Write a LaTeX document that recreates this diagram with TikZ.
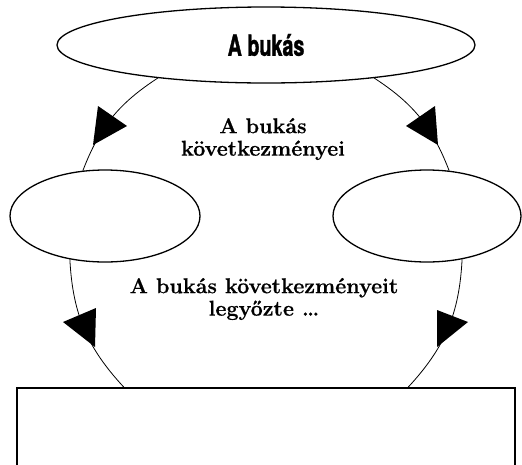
\documentclass[tikz,border=0pt]{standalone}
\usepackage{fontspec}
\newfontfamily\condfont[FakeStretch=0.68,FakeBold=1.2]{TeX Gyre Heros}
\newfontfamily\lblfont[FakeBold=0.6]{Latin Modern Roman}
\usetikzlibrary{shapes.geometric,calc}
\begin{document}
\begin{tikzpicture}[x=1pt,y=-1pt,
  oval/.style={draw,line width=1.3pt,ellipse,inner sep=0pt},
  link/.style={line width=0.8pt},
  head/.style={fill=black},
  lbl/.style={align=center,font=\lblfont\fontsize{21.5}{22.5}\selectfont\bfseries}]
\useasboundingbox (0,0) rectangle (522,464);
\clip (0,0) rectangle (522,464);
\node[oval,minimum width=418,minimum height=76] (top) at (266,45) {\condfont\bfseries\fontsize{29}{30}\selectfont A bukás};
\node[oval,minimum width=190,minimum height=92] (left) at (105,216) {};
\node[oval,minimum width=188,minimum height=92] (right) at (427,216) {};
\node[draw,line width=1.3pt,minimum width=498,minimum height=100] (box) at (266,438) {};
\draw[link] (top.197) to[bend right=18] (left.116);
\draw[link] (top.-17) to[bend left=18] (right.64);
\draw[link] (left.231.5) to[bend right=20] ($(box.north)+(-142,0)$);
\draw[link] (right.-51.5) to[bend left=20] ($(box.north)+(142,0)$);
\fill[head] (98,106) -- (127,126) -- (93,145) -- cycle;
\fill[head] (435,106) -- (406,126) -- (438,145) -- cycle;
\fill[head] (96,308) -- (63,322) -- (95,347) -- cycle;
\fill[head] (437,310) -- (468,322) -- (437,347) -- cycle;
\node[lbl] (l1) at (263,139) {A bukás\\következményei};
\node[lbl] (l2) at (264,299) {A bukás következményeit\\legyőzte \dots};
\end{tikzpicture}
\end{document}
